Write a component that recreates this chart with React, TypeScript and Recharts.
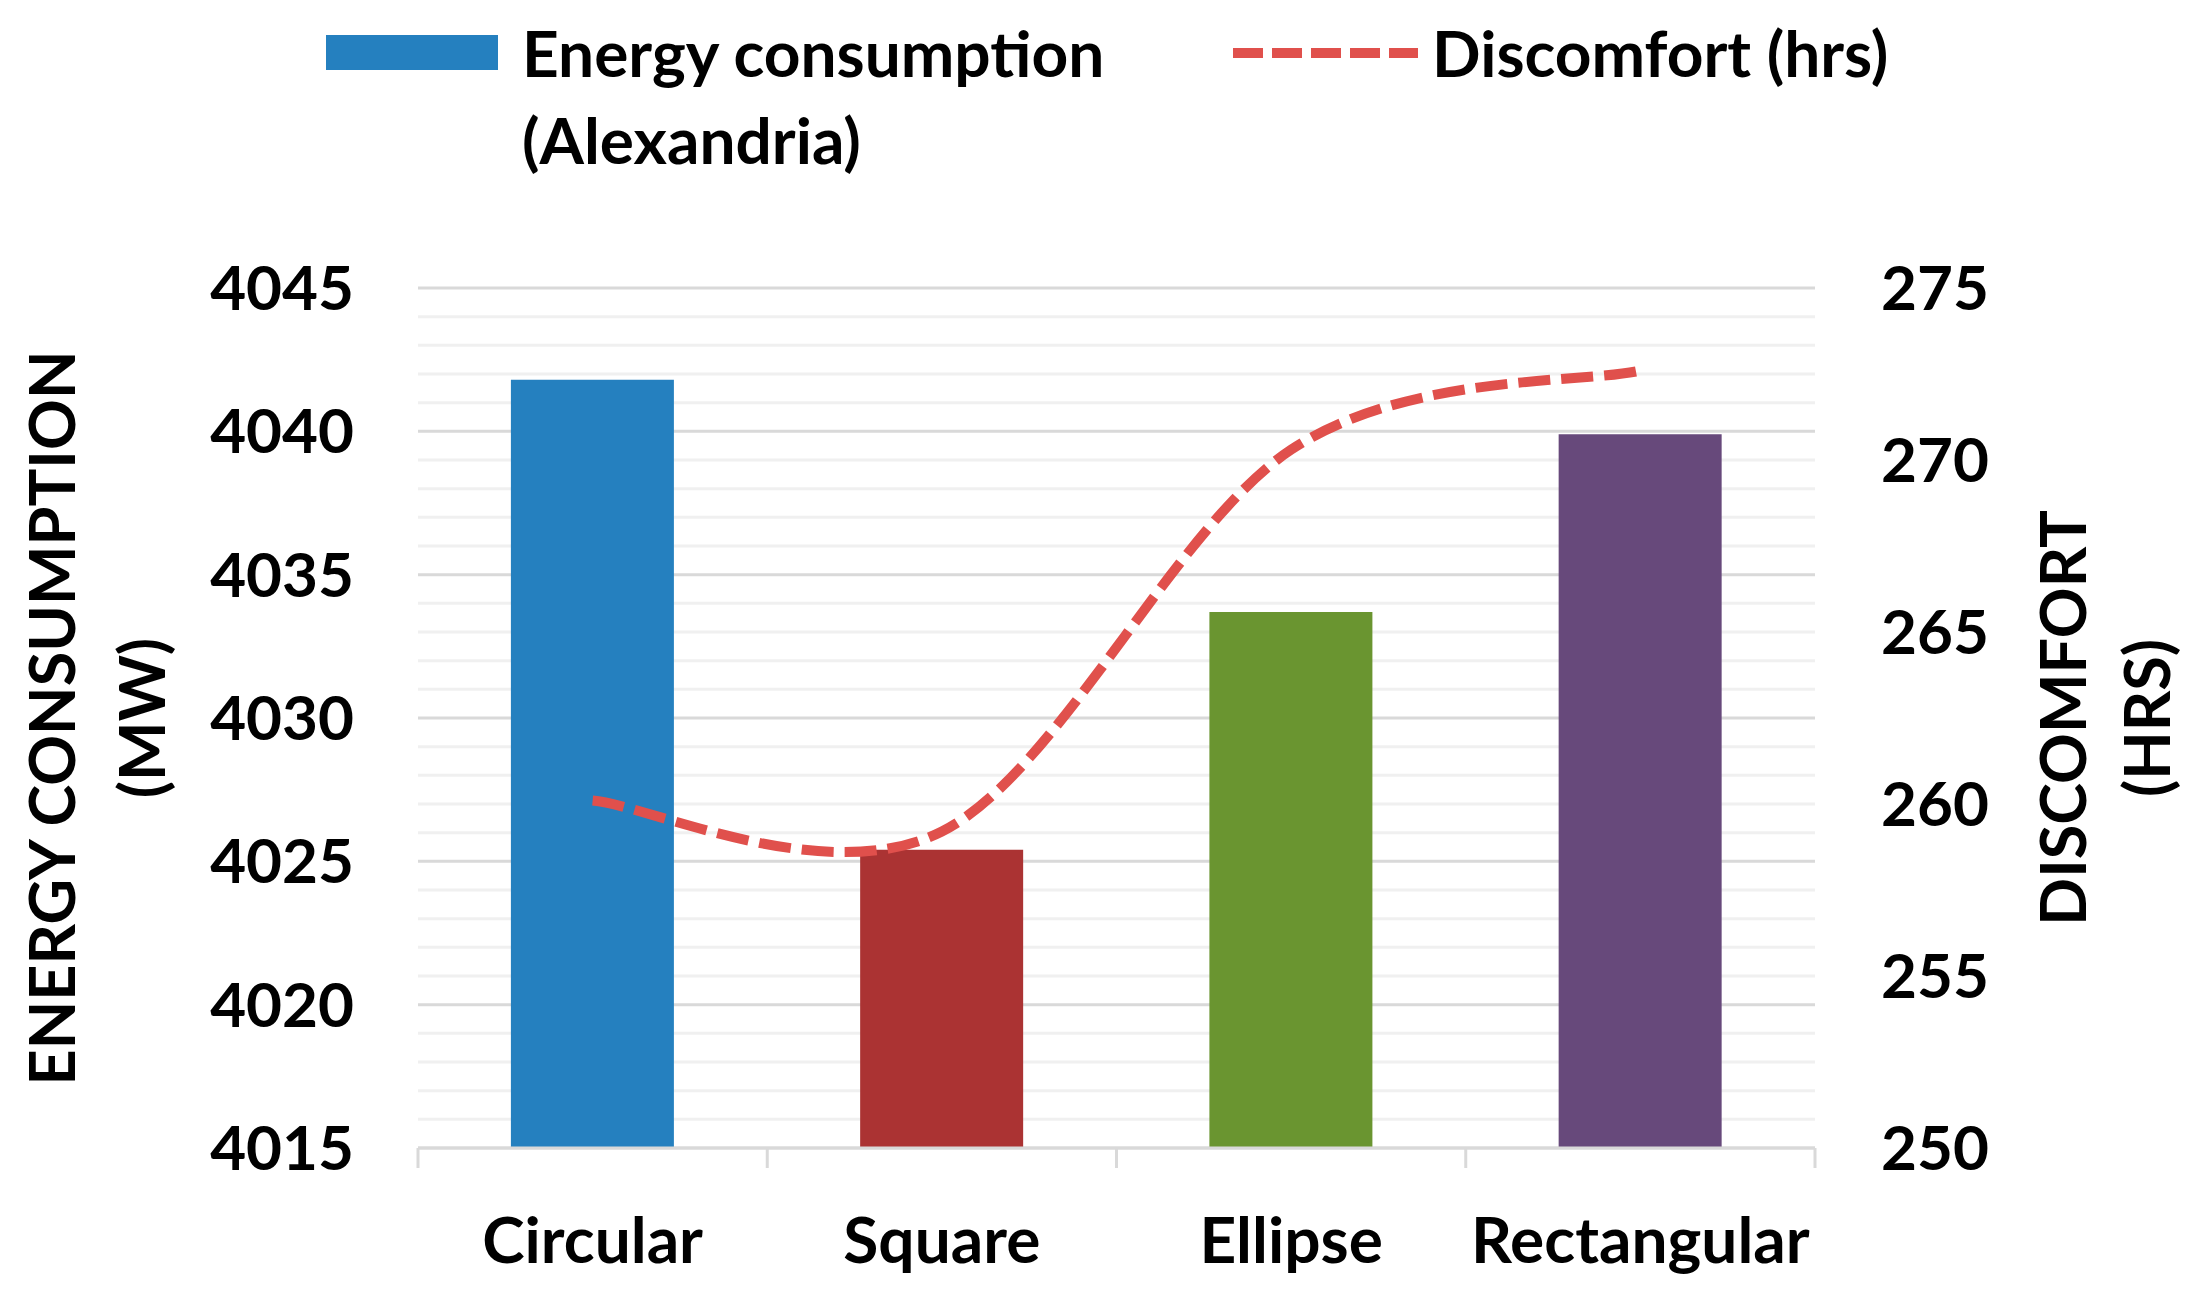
import { ComposedChart, Bar, Line, XAxis, YAxis, CartesianGrid, Cell, Legend } from "recharts";

const shapes = ["Circular", "Square", "Ellipse", "Rectangular"];
const energy = [4041.8, 4025.4, 4033.7, 4039.9];
const discomfort = [260.1, 259.2, 270.3, 272.6];
const barColors = ["#2580BF", "#AB3333", "#6A9530", "#67497B"];

const energyTicks = [4015, 4020, 4025, 4030, 4035, 4040, 4045];
const energyMinorTicks = [
  4015, 4016, 4017, 4018, 4019, 4020, 4021, 4022, 4023, 4024, 4025, 4026, 4027, 4028, 4029, 4030,
  4031, 4032, 4033, 4034, 4035, 4036, 4037, 4038, 4039, 4040, 4041, 4042, 4043, 4044, 4045,
];
const discomfortTicks = [250, 255, 260, 265, 270, 275];

const data = shapes.map((shape, i) => ({ shape, energy: energy[i], discomfort: discomfort[i] }));

const FONT = "Lato, 'Open Sans', sans-serif";
const tickStyle = { fontFamily: FONT, fontWeight: 700, fontSize: 62, fill: "#000" };
const LINE_RED = "#E0504C";
const AXIS_GRAY = "#D9D9D9";
const X_TICK_MARGIN = 64;

// Excel-like smoothed line (Catmull-Rom through the points)
function smoothCurve(context: any) {
  let pts: number[][] = [];
  return {
    areaStart() {},
    areaEnd() {},
    lineStart() {
      pts = [];
    },
    point(x: number, y: number) {
      pts.push([+x, +y]);
    },
    lineEnd() {
      if (!pts.length) return;
      context.moveTo(pts[0][0], pts[0][1]);
      for (let i = 0; i < pts.length - 1; i++) {
        const p0 = pts[Math.max(i - 1, 0)];
        const p1 = pts[i];
        const p2 = pts[i + 1];
        const p3 = pts[Math.min(i + 2, pts.length - 1)];
        context.bezierCurveTo(
          p1[0] + (p2[0] - p0[0]) / 6,
          p1[1] + (p2[1] - p0[1]) / 6,
          p2[0] - (p3[0] - p1[0]) / 6,
          p2[1] - (p3[1] - p1[1]) / 6,
          p2[0],
          p2[1]
        );
      }
    },
  };
}

// category label plus Excel-style tick marks between categories
function CategoryTick({ x, y, payload, index, visibleTicksCount }: any) {
  const axisY = y - X_TICK_MARGIN - 6;
  const half = payload.offset || 0;
  return (
    <g>
      <line x1={x - half} x2={x - half} y1={axisY} y2={axisY + 20} stroke={AXIS_GRAY} strokeWidth={3} />
      {index === visibleTicksCount - 1 && (
        <line x1={x + half} x2={x + half} y1={axisY} y2={axisY + 20} stroke={AXIS_GRAY} strokeWidth={3} />
      )}
      <text x={x} y={y} dy="0.71em" textAnchor="middle" style={{ ...tickStyle, fontSize: 64 }}>
        {payload.value}
      </text>
    </g>
  );
}

function AxisTitle({ viewBox, lines, firstX, gap }: any) {
  const { x, y, height } = viewBox;
  const cx = x + firstX + gap / 2;
  const cy = y + height / 2;
  return (
    <text
      transform={`rotate(-90, ${cx}, ${cy})`}
      x={cx}
      y={cy}
      textAnchor="middle"
      style={{ fontFamily: FONT, fontWeight: 700, fontSize: 63, fill: "#000" }}
    >
      <tspan x={cx} dy={-gap / 2 + 22}>{lines[0]}</tspan>
      <tspan x={cx} dy={gap}>{lines[1]}</tspan>
    </text>
  );
}

function GridLine(props: any) {
  const major = props.index % 5 === 0;
  return (
    <line
      key={`grid-${props.index}`}
      x1={props.x1}
      y1={props.y1}
      x2={props.x2}
      y2={props.y2}
      stroke={major ? AXIS_GRAY : "#F0F0F0"}
      strokeWidth={3}
    />
  );
}

function renderLegend() {
  const text = { fontFamily: FONT, fontWeight: 700, fontSize: 64, color: "#000", lineHeight: "87px", position: "absolute" as const, whiteSpace: "nowrap" as const };
  return (
    <div style={{ position: "relative", width: 2202, height: 190 }}>
      <div style={{ position: "absolute", left: 326, top: 35, width: 172, height: 35, background: barColors[0] }} />
      <div style={{ ...text, left: 522, top: 9 }}>
        Energy consumption
        <br />
        (Alexandria)
      </div>
      <svg style={{ position: "absolute", left: 1233, top: 43 }} width={185} height={20}>
        <line x1={0} y1={10} x2={185} y2={10} stroke={LINE_RED} strokeWidth={10} strokeDasharray="30 9" />
      </svg>
      <div style={{ ...text, left: 1432, top: 9 }}>Discomfort (hrs)</div>
    </div>
  );
}

export default function App() {
  return (
    <div style={{ position: "absolute", left: 0, top: 0, background: "#fff" }}>
      <ComposedChart
        width={2202}
        height={1294}
        data={data}
        margin={{ top: 288, right: 0, bottom: 0, left: 0 }}
        barCategoryGap="26.6%"
      >
        <Legend
          verticalAlign="middle"
          layout="horizontal"
          wrapperStyle={{ top: 0, left: 0, width: 2202 }}
          content={renderLegend}
        />
        <CartesianGrid yAxisId="left" vertical={false} horizontal={GridLine} />
        <XAxis
          dataKey="shape"
          height={146}
          axisLine={{ stroke: AXIS_GRAY, strokeWidth: 3 }}
          tickLine={false}
          tickMargin={X_TICK_MARGIN}
          tick={<CategoryTick />}
          interval={0}
        />
        <YAxis
          yAxisId="left"
          width={418}
          domain={[4015, 4045]}
          ticks={energyMinorTicks}
          interval={0}
          tickFormatter={(v: number) => (energyTicks.includes(v) ? String(v) : "")}
          allowDataOverflow
          axisLine={false}
          tickLine={false}
          tickMargin={58}
          tick={tickStyle}
          label={{ content: (p: any) => <AxisTitle {...p} lines={["ENERGY CONSUMPTION", "(MW)"]} firstX={53} gap={90} /> }}
        />
        <YAxis
          yAxisId="right"
          orientation="right"
          width={387}
          domain={[250, 275]}
          ticks={discomfortTicks}
          interval={0}
          allowDataOverflow
          axisLine={false}
          tickLine={false}
          tickMargin={60}
          tick={{ ...tickStyle, textAnchor: "start" }}
          label={{ content: (p: any) => <AxisTitle {...p} lines={["DISCOMFORT", "(HRS)"]} firstX={249} gap={84} /> }}
        />
        <Bar yAxisId="left" dataKey="energy" isAnimationActive={false}>
          {data.map((d, i) => (
            <Cell key={d.shape} fill={barColors[i]} />
          ))}
        </Bar>
        <Line
          yAxisId="right"
          dataKey="discomfort"
          type={smoothCurve as any}
          stroke={LINE_RED}
          strokeWidth={10}
          strokeDasharray="32 11"
          dot={false}
          activeDot={false}
          isAnimationActive={false}
        />
      </ComposedChart>
    </div>
  );
}
